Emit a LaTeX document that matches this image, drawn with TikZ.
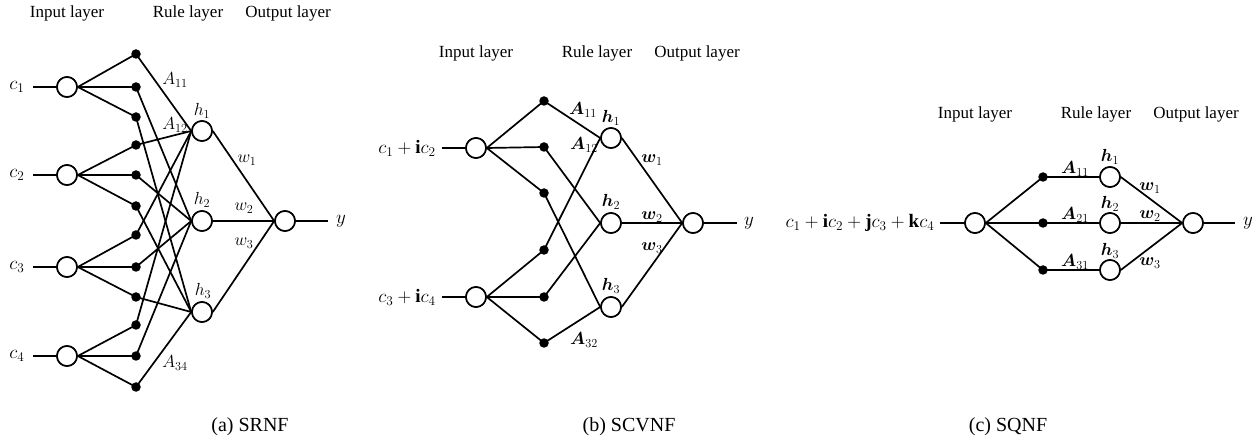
\RequirePackage{fix-cm}
\documentclass[tikz,border=0pt]{standalone}
\usepackage{fontspec}
\setmainfont{Liberation Serif}
\usepackage{amsmath,bm}
\begin{document}
\begin{tikzpicture}[x=1pt,y=-1pt,
  line width=1.7pt,
  neuron/.style={circle,draw,fill=white,minimum size=20pt,inner sep=0pt,line width=1.6pt},
  dotn/.style={circle,fill=black,minimum size=9.5pt,inner sep=0pt},
  ttl/.style={font=\fontsize{17}{20}\selectfont,inner sep=0pt},
  captn/.style={font=\fontsize{20}{24}\selectfont,inner sep=0pt},
  lbl/.style={font=\fontsize{17.5}{20}\selectfont,inner sep=0pt},
  inlbl/.style={font=\fontsize{19}{22}\selectfont,inner sep=0pt},
  wire/.style={line width=1.7pt}]
\useasboundingbox (0,0) rectangle (1258,443);

% ================= (a) SRNF =================
\node[ttl] (ta1) at (67,13) {Input layer};
\node[ttl] (ta2) at (188,13) {Rule layer};
\node[ttl] (ta3) at (288,13) {Output layer};

\foreach \i/\yy in {1/87,2/175,3/267,4/356}{
  \node[neuron] (ina\i) at (67,\yy) {};
  \node[inlbl] (la\i) at (17,\yy) {$c_{\i}$};
  \coordinate (sa\i) at (33,\yy);
}
\foreach \k/\yy in {1/54,2/87,3/117,4/145,5/175,6/206,7/235,8/267,9/297,10/325,11/356,12/387}{
  \coordinate (da\k) at (136,\yy);
}
\node[neuron] (ha1) at (202,131) {};
\node[neuron] (ha2) at (202,221) {};
\node[neuron] (ha3) at (202,312) {};
\node[neuron] (outa) at (285,221) {};
\coordinate (ea) at (328,221);
\node[inlbl] (ya) at (341,221) {$y$};

\foreach \i in {1,2,3,4}{
  \draw[wire] (sa\i) -- (ina\i.west);
  \pgfmathtruncatemacro{\a}{3*\i-2}
  \pgfmathtruncatemacro{\b}{3*\i-1}
  \pgfmathtruncatemacro{\c}{3*\i}
  \draw[wire] (ina\i.east) -- (da\a) -- (ha1.west);
  \draw[wire] (ina\i.east) -- (da\b) -- (ha2.west);
  \draw[wire] (ina\i.east) -- (da\c) -- (ha3.west);
}
\foreach \j in {1,2,3}{ \draw[wire] (ha\j.east) -- (outa.west); }
\draw[wire] (outa.east) -- (ea);
\foreach \k in {1,...,12}{ \node[dotn] (dna\k) at (da\k) {}; }
\foreach \i in {1,2,3,4}{ \node[neuron] (ina\i b) at (ina\i) {}; }
\foreach \j in {1,2,3}{ \node[neuron] (ha\j b) at (ha\j) {}; }
\node[neuron] (outa b) at (outa) {};

\node[lbl] (A11a) at (175,80) {$A_{11}$};
\node[lbl] (A12a) at (175,125) {$A_{12}$};
\node[lbl] (A34a) at (175,363) {$A_{34}$};
\node[lbl] (h1a) at (202,111) {$h_1$};
\node[lbl] (h2a) at (202,200) {$h_2$};
\node[lbl] (h3a) at (203,291) {$h_3$};
\node[lbl] (w1a) at (247,160) {$w_1$};
\node[lbl] (w2a) at (244,208) {$w_2$};
\node[lbl] (w3a) at (244,243) {$w_3$};
\node[captn] (capa) at (250,427) {(a) SRNF};

% ================= (b) SCVNF =================
\node[ttl] (tb1) at (476,53) {Input layer};
\node[ttl] (tb2) at (597,53) {Rule layer};
\node[ttl] (tb3) at (697,53) {Output layer};

\node[neuron] (inb1) at (476,148) {};
\node[neuron] (inb2) at (476,297) {};
\node[inlbl] (lb1) at (407,148) {$c_1+\mathbf{i}c_2$};
\node[inlbl] (lb2) at (407,297) {$c_3+\mathbf{i}c_4$};
\coordinate (sb1) at (442,148);
\coordinate (sb2) at (442,297);
\foreach \k/\yy in {1/101,2/147,3/193,4/250,5/297,6/343}{
  \coordinate (db\k) at (544,\yy);
}
\node[neuron] (hb1) at (611,138) {};
\node[neuron] (hb2) at (611,223) {};
\node[neuron] (hb3) at (611,307) {};
\node[neuron] (outb) at (693,223) {};
\coordinate (eb) at (737,223);
\node[inlbl] (yb) at (749,223) {$y$};

\draw[wire] (sb1) -- (inb1.west);
\draw[wire] (sb2) -- (inb2.west);
\draw[wire] (inb1.east) -- (db1) -- (hb1.west);
\draw[wire] (inb1.east) -- (db2) -- (hb2.west);
\draw[wire] (inb1.east) -- (db3) -- (hb3.west);
\draw[wire] (inb2.east) -- (db4) -- (hb1.west);
\draw[wire] (inb2.east) -- (db5) -- (hb2.west);
\draw[wire] (inb2.east) -- (db6) -- (hb3.west);
\foreach \j in {1,2,3}{ \draw[wire] (hb\j.east) -- (outb.west); }
\draw[wire] (outb.east) -- (eb);
\foreach \k in {1,...,6}{ \node[dotn] (dnb\k) at (db\k) {}; }
\node[neuron] (inb1 b) at (inb1) {};
\node[neuron] (inb2 b) at (inb2) {};
\foreach \j in {1,2,3}{ \node[neuron] (hb\j b) at (hb\j) {}; }
\node[neuron] (outb b) at (outb) {};

\node[lbl] (A11b) at (583,110) {$\bm{A}_{11}$};
\node[lbl] (A12b) at (584,145) {$\bm{A}_{12}$};
\node[lbl] (A32b) at (584,340) {$\bm{A}_{32}$};
\node[lbl] (h1b) at (611,118) {$\bm{h}_1$};
\node[lbl] (h2b) at (611,202) {$\bm{h}_2$};
\node[lbl] (h3b) at (611,286) {$\bm{h}_3$};
\node[lbl] (w1b) at (652,160) {$\bm{w}_1$};
\node[lbl] (w2b) at (652,217) {$\bm{w}_2$};
\node[lbl] (w3b) at (652,248) {$\bm{w}_3$};
\node[captn] (capb) at (629,427) {(b) SCVNF};

% ================= (c) SQNF =================
\node[ttl] (tc1) at (975,114) {Input layer};
\node[ttl] (tc2) at (1096,114) {Rule layer};
\node[ttl] (tc3) at (1196,114) {Output layer};

\node[neuron] (inc) at (975,223) {};
\node[inlbl] (lc) at (860,223) {$c_1+\mathbf{i}c_2+\mathbf{j}c_3+\mathbf{k}c_4$};
\coordinate (sc) at (940,223);
\foreach \k/\yy in {1/177,2/223,3/270}{
  \coordinate (dc\k) at (1043,\yy);
  \node[neuron] (hc\k) at (1110,\yy) {};
}
\node[neuron] (outc) at (1193,223) {};
\coordinate (ec) at (1235,223);
\node[inlbl] (yc) at (1248,223) {$y$};

\draw[wire] (sc) -- (inc.west);
\foreach \k in {1,2,3}{
  \draw[wire] (inc.east) -- (dc\k) -- (hc\k.west);
  \draw[wire] (hc\k.east) -- (outc.west);
}
\draw[wire] (outc.east) -- (ec);
\foreach \k in {1,2,3}{ \node[dotn] (dnc\k) at (dc\k) {}; \node[neuron] (hc\k b) at (hc\k) {}; }
\node[neuron] (inc b) at (inc) {};
\node[neuron] (outc b) at (outc) {};

\node[lbl] (A11c) at (1075,169) {$\bm{A}_{11}$};
\node[lbl] (A21c) at (1075,215) {$\bm{A}_{21}$};
\node[lbl] (A31c) at (1075,262) {$\bm{A}_{31}$};
\node[lbl] (h1c) at (1110,157) {$\bm{h}_1$};
\node[lbl] (h2c) at (1110,204) {$\bm{h}_2$};
\node[lbl] (h3c) at (1110,251) {$\bm{h}_3$};
\node[lbl] (w1c) at (1150,188) {$\bm{w}_1$};
\node[lbl] (w2c) at (1150,216) {$\bm{w}_2$};
\node[lbl] (w3c) at (1150,263) {$\bm{w}_3$};
\node[captn] (capc) at (1008,427) {(c) SQNF};
\end{tikzpicture}
\end{document}
